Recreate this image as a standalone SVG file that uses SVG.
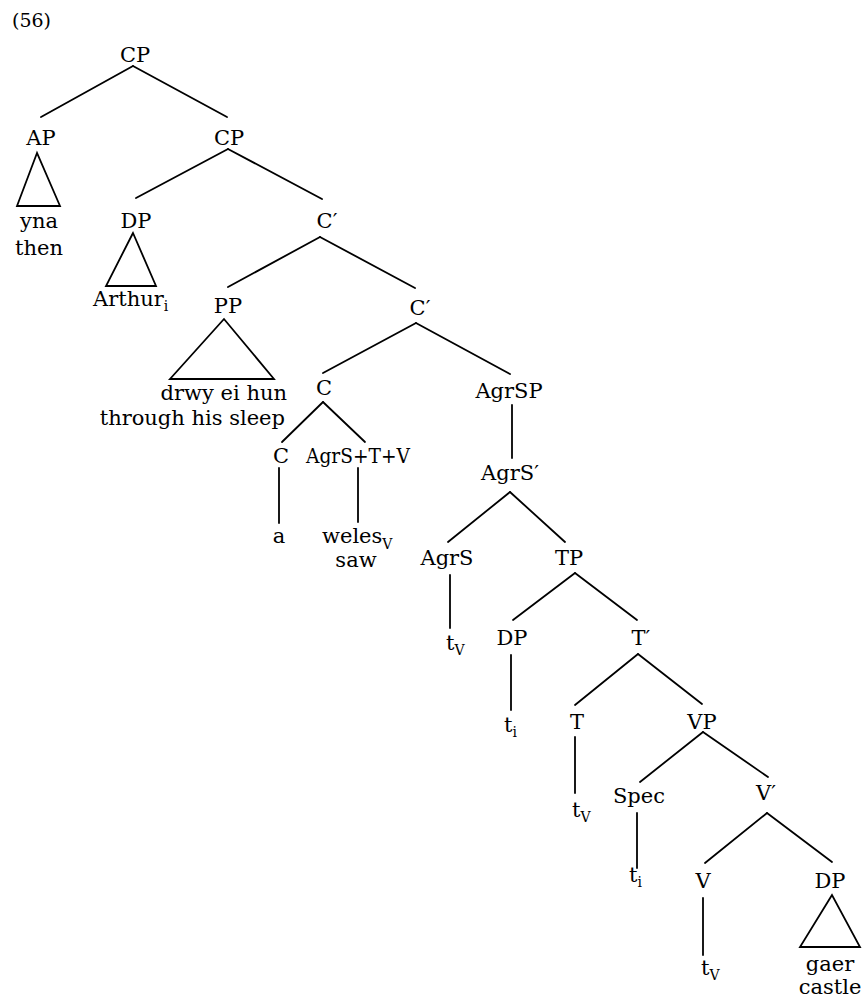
<svg xmlns="http://www.w3.org/2000/svg" width="867" height="1000" viewBox="0 0 867 1000">
<style>
text{font-family:"DejaVu Serif","Liberation Serif",serif;font-size:21px;fill:#000;text-anchor:middle}
.s{font-size:14px}
.l{text-anchor:start}
.e{text-anchor:end}
line,polygon{stroke:#000;stroke-width:1.8;fill:none;stroke-linecap:round}
</style>
<rect width="867" height="1000" fill="#fff"/>
<text x="12" y="27" class="l" style="font-size:19px">(56)</text>
<g id="connectors">
<line x1="133" y1="66" x2="41" y2="117"/>
<line x1="133" y1="66" x2="227" y2="117"/>
<line x1="228" y1="149" x2="136" y2="198"/>
<line x1="228" y1="149" x2="322" y2="199"/>
<line x1="320" y1="237" x2="228" y2="287"/>
<line x1="320" y1="237" x2="415" y2="288"/>
<line x1="416" y1="323" x2="323" y2="373"/>
<line x1="416" y1="323" x2="510" y2="374"/>
<line x1="323" y1="402" x2="282" y2="442"/>
<line x1="323" y1="402" x2="365" y2="442"/>
<line x1="279" y1="468" x2="279" y2="523"/>
<line x1="358" y1="468" x2="358" y2="522"/>
<line x1="512" y1="405" x2="512" y2="458"/>
<line x1="510" y1="492" x2="448" y2="542"/>
<line x1="510" y1="492" x2="565" y2="542"/>
<line x1="450" y1="575" x2="450" y2="628"/>
<line x1="575" y1="573" x2="513" y2="620"/>
<line x1="575" y1="573" x2="637" y2="620"/>
<line x1="511" y1="655" x2="511" y2="710"/>
<line x1="638" y1="654" x2="575" y2="705"/>
<line x1="638" y1="654" x2="702" y2="704"/>
<line x1="575" y1="737" x2="575" y2="793"/>
<line x1="703" y1="732" x2="640" y2="782"/>
<line x1="703" y1="732" x2="768" y2="777"/>
<line x1="637" y1="813" x2="637" y2="868"/>
<line x1="767" y1="813" x2="705" y2="863"/>
<line x1="767" y1="813" x2="832" y2="862"/>
<line x1="703" y1="898" x2="703" y2="955"/>
</g>
<g id="cp0"><text x="135" y="62">CP</text></g>
<g id="ap"><text x="41" y="145">AP</text>
<polygon points="37,153 17,206 60,206"/>
<text x="39" y="228">yna</text><text x="39" y="255">then</text></g>
<g id="cp1"><text x="229" y="145">CP</text></g>
<g id="dp1"><text x="136" y="228">DP</text>
<polygon points="133,233 106,286 156,286"/>
<text x="93" y="306" class="l">Arthur<tspan class="s" dy="5">i</tspan></text></g>
<g id="cbar1"><text x="327" y="228">C′</text></g>
<g id="pp"><text x="228" y="313">PP</text>
<polygon points="224,319 170,379 274,379"/>
<text x="287" y="400" class="e">drwy ei hun</text>
<text x="285" y="425" class="e">through his sleep</text></g>
<g id="cbar2"><text x="420" y="315">C′</text></g>
<g id="c0"><text x="324" y="395">C</text></g>
<g id="agrsp"><text x="509" y="398">AgrSP</text></g>
<g id="c1"><text x="281" y="463">C</text><text x="279" y="543">a</text></g>
<g id="agrstv"><text x="358" y="463" textLength="104" lengthAdjust="spacingAndGlyphs">AgrS+T+V</text>
<text x="322" y="543" class="l">weles<tspan class="s" dy="6">V</tspan></text>
<text x="356" y="567">saw</text></g>
<g id="agrsbar"><text x="510" y="480">AgrS′</text></g>
<g id="agrs"><text x="447" y="565">AgrS</text>
<text x="446" y="650" class="l">t<tspan class="s" dy="5">V</tspan></text></g>
<g id="tp"><text x="569" y="565">TP</text></g>
<g id="dp2"><text x="512" y="645">DP</text>
<text x="504" y="732" class="l">t<tspan class="s" dy="5">i</tspan></text></g>
<g id="tbar"><text x="641" y="645">T′</text></g>
<g id="t"><text x="577" y="729">T</text>
<text x="572" y="817" class="l">t<tspan class="s" dy="5">V</tspan></text></g>
<g id="vp"><text x="702" y="729">VP</text></g>
<g id="spec"><text x="639" y="803">Spec</text>
<text x="629" y="882" class="l">t<tspan class="s" dy="5">i</tspan></text></g>
<g id="vbar"><text x="766" y="800">V′</text></g>
<g id="v"><text x="703" y="888">V</text>
<text x="701" y="975" class="l">t<tspan class="s" dy="5">V</tspan></text></g>
<g id="dp3"><text x="830" y="888">DP</text>
<polygon points="832,895 800,947 860,947"/>
<text x="830" y="971">gaer</text><text x="830" y="994">castle</text></g>
</svg>
